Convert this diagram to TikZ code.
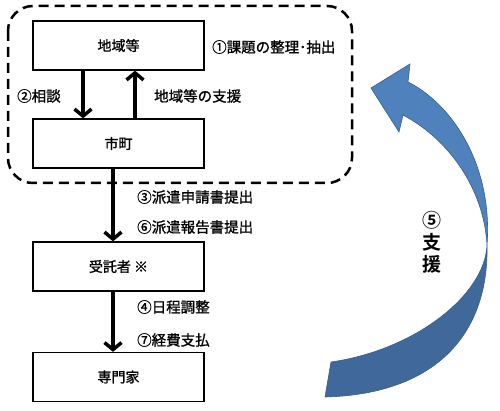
\documentclass[tikz,border=0pt]{standalone}
\usepackage{fontspec}
\setmainfont{Noto Sans CJK JP}[FakeBold=1.2]
\newfontfamily\heavyfont{Noto Sans CJK JP Bold}
\usetikzlibrary{arrows.meta}
\definecolor{arrlight}{HTML}{4F81BD}
\definecolor{arrdark}{HTML}{41689A}
\definecolor{arredge}{HTML}{385D8A}
\tikzset{
  box/.style={draw, line width=1.3pt, minimum width=171pt, minimum height=49pt, inner sep=0pt, font=\fontsize{14}{16}\selectfont},
  lbl/.style={anchor=west, inner sep=0pt, font=\fontsize{14.5}{16}\selectfont},
  arr/.style={line width=3.5pt, -{Straight Barb[length=7pt,width=17pt,line width=3.5pt]}},
  group/.style={line width=2.5pt, dash pattern=on 10pt off 6pt, rounded corners=25pt},
}
\begin{document}
\begin{tikzpicture}[x=1pt,y=-1pt]
\useasboundingbox (0,0) rectangle (500,411);
% dashed group
\draw[group] (8,6) rectangle (352,183);
% boxes
\node[box] (a) at (118.5,45.5) {地域等};
\node[box] (b) at (118.5,143.5) {市町};
\node[box] (c) at (118.5,266.5) {受託者 ※};
\node[box] (d) at (118.5,377) {専門家};
% arrows
\draw[arr] ([xshift=-35.5pt]a.south) -- ([xshift=-35.5pt]b.north);
\draw[arr] ([xshift=16.5pt]b.north) -- ([xshift=16.5pt]a.south);
\draw[arr] ([xshift=-5.5pt]b.south) -- ([xshift=-5.5pt]c.north);
\draw[arr] ([xshift=-5.5pt]c.south) -- ([xshift=-5.5pt]d.north);
% labels
\node[lbl] (l1) at (212,47) {①課題の整理･抽出};
\node[lbl] (l2) at (17,96) {②相談};
\node[lbl] (l3) at (154,96) {地域等の支援};
\node[lbl] (l4) at (137,197) {③派遣申請書提出};
\node[lbl] (l5) at (137,227) {⑥派遣報告書提出};
\node[lbl] (l6) at (137,307) {④日程調整};
\node[lbl] (l7) at (137,340) {⑦経費支払};
% big curved arrow
\filldraw[fill=arrdark, draw=arredge, line width=0.6pt]
  (487,245) .. controls (489,330) and (440,394) .. (325,397)
  -- (331,362)
  .. controls (415,350) and (485,295) .. (487,245)
  -- cycle;
\filldraw[fill=arrlight, draw=arredge, line width=0.6pt]
  (371,88) -- (410,64) -- (408,82)
  .. controls (452,104) and (493,165) .. (487,245)
  .. controls (484,190) and (450,140) .. (403,115)
  -- (399,132) -- cycle;
\node[inner sep=0pt, align=center, font=\fontsize{19}{22}\selectfont\heavyfont] (sup) at (432,242) {⑤\\支\\援};
\end{tikzpicture}
\end{document}
